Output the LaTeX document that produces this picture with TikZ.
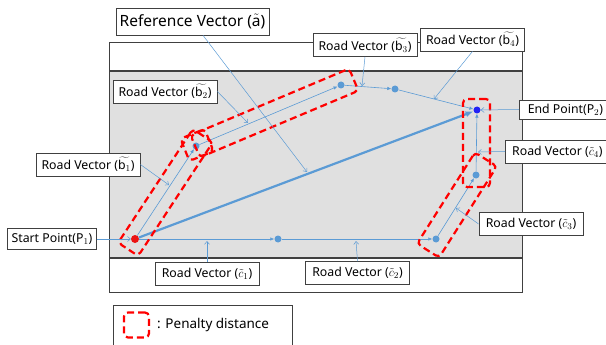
\documentclass[tikz,border=0pt]{standalone}
\usepackage{fontspec}
\setmainfont{Noto Sans}
\usetikzlibrary{arrows.meta}

\definecolor{roadblue}{RGB}{91,155,213}
\definecolor{endblue}{RGB}{35,35,245}
\definecolor{startred}{RGB}{235,20,20}
\definecolor{bandgray}{RGB}{224,224,224}
\definecolor{edgegray}{RGB}{64,64,64}

\tikzset{
  dot/.style={circle, fill=roadblue, inner sep=0pt, minimum size=7pt},
  roadvec/.style={roadblue, line width=0.6pt, -{Latex[length=4pt,width=3.5pt]}},
  refvec/.style={roadblue, line width=2.2pt, -{Latex[length=8pt,width=6pt]}},
  leader/.style={roadblue, line width=0.5pt, -{Straight Barb[length=3pt,width=5pt]}},
  penalty/.style={draw=red, dash pattern=on 7pt off 4pt, line width=2.2pt,
                  rounded corners=4pt, inner sep=0pt},
  roadlabel/.style={draw=edgegray, fill=white, line width=0.8pt,
                    font=\fontsize{12.3}{14}\selectfont, inner xsep=2pt,
                    inner ysep=0pt, minimum width=104pt, minimum height=23pt},
}

\begin{document}
\begin{tikzpicture}[x=1pt, y=-1pt]
    \useasboundingbox (0,0) rectangle (606,345);

    % ================= ROAD (background) =================
    \fill[bandgray] (109,71) rectangle (522,258);
    \draw[edgegray, line width=1pt] (109,43) rectangle (522,292);
    \draw[edgegray, line width=2.5pt] (109,71) -- (522,71);
    \draw[edgegray, line width=2.5pt] (109,258) -- (522,258);

    % 1. Points of the route
    \node[dot, fill=startred, minimum size=8pt] (P1) at (135,239) {};
    \node[dot] (b1) at (196,146) {};
    \node[dot] (b2) at (341,85) {};
    \node[dot] (b3) at (395,89) {};
    \node[dot, fill=endblue] (P2) at (477,110) {};
    \node[dot] (c1) at (278,239) {};
    \node[dot] (c2) at (436,239) {};
    \node[dot] (c3) at (476,175) {};

    % 2. Road vectors (upper route b, lower route c)
    \draw[roadvec] (P1) -- (b1);
    \draw[roadvec] (b1) -- (b2);
    \draw[roadvec] (b2) -- (b3);
    \draw[roadvec] (b3) -- (P2);
    \draw[roadvec] (P1) -- (c1);
    \draw[roadvec] (c1) -- (c2);
    \draw[roadvec] (c2) -- (c3);
    \draw[roadvec] (c3) -- (P2);

    % 3. Reference vector
    \draw[refvec] (P1) -- (P2);

    % 4. Penalty distance boxes
    \node[penalty, minimum width=136pt, minimum height=24pt, rotate=56.7] (pen_b1) at (165.5,192.5) {};
    \node[penalty, minimum width=26pt, minimum height=24pt, rotate=22] (pen_bend) at (197,145) {};
    \node[penalty, minimum width=172pt, minimum height=24pt, rotate=22.8] (pen_b2) at (274.5,113) {};
    \node[penalty, minimum width=27pt, minimum height=88pt] (pen_c4) at (476.5,143) {};
    \node[penalty, minimum width=108pt, minimum height=26pt, rotate=57.6] (pen_c3) at (457,205) {};

    % 5. Targets of the labels
    \coordinate (tRef) at (307,172);
    \coordinate (tB1) at (169,185);
    \coordinate (tB2) at (248,123);
    \coordinate (tB3) at (362,86);
    \coordinate (tB4) at (434,99);
    \coordinate (tC1) at (207,241);
    \coordinate (tC2) at (356,241);
    \coordinate (tC3) at (456,208);
    \coordinate (tC4) at (478,152);

    % 6. Labels
    \node[roadlabel, minimum width=153pt, minimum height=27pt,
          font=\fontsize{15.5}{18}\selectfont] (lref) at (192.5,21.5) {Reference Vector ($\tilde{\mathrm{a}}$)};
    \node[roadlabel] (lb1) at (88,164.5) {Road Vector ($\widetilde{\mathrm{b}_1}$)};
    \node[roadlabel] (lb2) at (165,91.5) {Road Vector ($\widetilde{\mathrm{b}_2}$)};
    \node[roadlabel] (lb3) at (365,45) {Road Vector ($\widetilde{\mathrm{b}_3}$)};
    \node[roadlabel] (lb4) at (472.5,39.5) {Road Vector ($\widetilde{\mathrm{b}_4}$)};
    \node[roadlabel, anchor=west, minimum width=92pt, minimum height=19pt, inner xsep=5pt] (lend) at (519,109.5) {End Point($\mathrm{P}_2$)};
    \node[roadlabel, anchor=west, inner xsep=5pt] (lc4) at (505,151.5) {Road Vector ($\tilde{c}_4$)};
    \node[roadlabel] (lc3) at (531,224) {Road Vector ($\tilde{c}_3$)};
    \node[roadlabel] (lc2) at (357.5,273) {Road Vector ($\tilde{c}_2$)};
    \node[roadlabel] (lc1) at (207,273.5) {Road Vector ($\tilde{c}_1$)};
    \node[roadlabel, minimum width=89pt, minimum height=21pt] (lstart) at (52,239) {Start Point($\mathrm{P}_1$)};

    % 7. Leader lines
    \draw[leader] (lref) -- (tRef);
    \draw[leader] (lb1.east) -- (tB1);
    \draw[leader] (lb2.east) -- (tB2);
    \draw[leader] (lb3.south) -- (tB3);
    \draw[leader] (lb4.south) -- (tB4);
    \draw[leader] (lend.west) -- (P2);
    \draw[leader] (lc4.west) -- (tC4);
    \draw[leader] (lc3.west) -- (tC3);
    \draw[leader] (lc2.north) -- (tC2);
    \draw[leader] (lc1.north) -- (tC1);
    \draw[leader] (lstart.east) -- (P1);

    % ================= LEGEND =================
    \node[draw=edgegray, line width=0.8pt, anchor=north west, minimum width=179pt,
          minimum height=46pt] (legend) at (113,305) {};
    \node[penalty, minimum size=25pt] (legbox) at (136.5,325) {};
    \node[right, font=\fontsize{13.5}{16}\selectfont, inner sep=0pt] (legtext) at (157,325) {: Penalty distance};

\end{tikzpicture}
\end{document}
